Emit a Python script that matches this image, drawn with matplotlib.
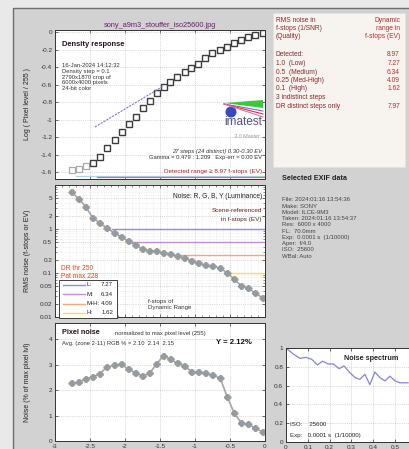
import numpy as np
import matplotlib.pyplot as plt
from matplotlib.patches import Rectangle, Ellipse, Polygon
from matplotlib.ticker import FixedLocator, MultipleLocator, NullFormatter, LogLocator

plt.rcParams['font.family'] = ['Liberation Sans', 'DejaVu Sans']
plt.rcParams['axes.unicode_minus'] = False

# step wedge zones: log10 exposure of each zone
log_exposure = [-2.76, -2.66, -2.56, -2.46, -2.36, -2.26, -2.15, -2.05, -1.95, -1.85,
                -1.75, -1.65, -1.55, -1.45, -1.35, -1.25, -1.15, -1.05, -0.95, -0.85,
                -0.75, -0.64, -0.54, -0.44, -0.34, -0.24, -0.14, -0.03]
density = [-1.58, -1.57, -1.53, -1.50, -1.43, -1.33, -1.23, -1.14, -1.05, -0.97,
           -0.87, -0.79, -0.70, -0.63, -0.57, -0.51, -0.46, -0.41, -0.37, -0.30,
           -0.24, -0.21, -0.17, -0.13, -0.09, -0.06, -0.03, -0.01]
n_indistinct = 3

# RMS noise in f-stops per zone
noise_fstops = [6.9, 4.8, 3.2, 1.78, 1.37, 1.05, 0.81, 0.66, 0.53, 0.43,
                0.35, 0.316, 0.316, 0.285, 0.27, 0.243, 0.22, 0.19, 0.17, 0.15,
                0.144, 0.13, 0.10, 0.073, 0.051, 0.046, 0.035, 0.027]

# pixel noise, % of max pixel level
pixel_noise = [2.27, 2.31, 2.43, 2.53, 2.63, 2.90, 2.98, 3.01, 2.82, 2.68,
               2.55, 2.65, 3.02, 3.35, 3.20, 3.05, 2.95, 2.72, 2.72, 2.65,
               2.59, 2.46, 1.74, 1.09, 0.72, 0.67, 0.50, 0.36]

gamma = 0.479
fit_x = [-2.43, -1.46]
fit_offset = 0.078

dr_names = ['L:', 'M:', 'M-H:', 'H:']
dr_values = [7.27, 6.34, 4.09, 1.62]
dr_thresholds = [1.0, 0.5, 0.25, 0.1]
dr_colors = ['#8c8ce8', '#c98ad8', '#f3a87a', '#e8e84c']
detected_dr = 8.97
distinct_dr = 7.97

spec_freq = [0.005, 0.034, 0.064, 0.092, 0.118, 0.144, 0.168, 0.194, 0.217, 0.244,
             0.266, 0.290, 0.317, 0.339, 0.362, 0.385, 0.408, 0.431, 0.454, 0.477,
             0.500, 0.523, 0.560]
spec_power = [0.99, 0.935, 0.89, 0.90, 0.88, 0.82, 0.86, 0.83, 0.83, 0.78,
              0.81, 0.745, 0.685, 0.667, 0.72, 0.61, 0.745, 0.685, 0.65, 0.70,
              0.65, 0.63, 0.63]

channel_colors = ['#d08a60', '#86b070', '#7086c0', '#a0a0a0']
channel_shift = [-0.008, -0.003, 0.003, 0.008]

W, H = 410, 449
fig = plt.figure(figsize=(W / 100, H / 100), dpi=100)
fig.patch.set_facecolor('#e9e9e9')
fig.add_artist(Rectangle((13 / W, -0.1), 1.1, 1.1 - 8 / H, transform=fig.transFigure,
                         fc='#d2d2d2', ec='#6e6e6e', lw=1, zorder=-10))


def box(x0, y0, x1, y1):
    return [x0 / W, 1 - y1 / H, (x1 - x0) / W, (y1 - y0) / H]


def ftext(x, y, s, **kw):
    kw.setdefault('fontsize', 4.6)
    kw.setdefault('va', 'center')
    fig.text(x / W, 1 - y / H, s, **kw)


def style(ax):
    ax.set_facecolor('white')
    ax.tick_params(which='both', direction='in', top=True, right=True, labelsize=4.6,
                   colors='#333333', pad=2)
    ax.tick_params(which='major', length=2.5, width=0.5)
    ax.tick_params(which='minor', length=1.3, width=0.4)
    for s in ax.spines.values():
        s.set_color('#333333')
        s.set_linewidth(0.7)
    ax.grid(True, which='major', color='#b8b8b8', ls=':', lw=0.5)


def channels(ax, yvals):
    # R, G, B and luminance drawn on top of each other
    for c, dx in zip(channel_colors, channel_shift):
        ax.plot(np.array(log_exposure) + dx, yvals, '-D', color=c, ms=3.0, lw=0.6,
                mec=c, mfc=c, alpha=0.6)


# --- density response ---
ax1 = fig.add_axes(box(55, 30, 265, 179))
style(ax1)
ax1.set_xlim(-3, 0)
ax1.set_ylim(-1.68, 0.023)
ax1.set_xticks(np.arange(-3, 0.01, 0.5))
ax1.xaxis.set_major_formatter(NullFormatter())
dticks = [-1.6, -1.4, -1.2, -1, -0.8, -0.6, -0.4, -0.2, 0]
ax1.set_yticks(dticks)
ax1.set_yticklabels(['%g' % v for v in dticks])
ax1.set_title('sony_a9m3_stouffer_iso25600.jpg', fontsize=5.3, color='#6a1f6a', pad=2.5)
ax1.set_ylabel('Log ( Pixel level / 255 )', fontsize=5, color='#222222')
ax1.yaxis.set_label_coords(-24 / 210, 0.5)

ax1.plot(log_exposure[:n_indistinct], density[:n_indistinct], 's', ms=4.2, mfc='white',
         mec='#aaaaaa', mew=0.9, ls='none')
ax1.plot(log_exposure[n_indistinct:], density[n_indistinct:], 's', ms=4.2, mfc='white',
         mec='#3c3c3c', mew=1.0, ls='none')
fx = np.array(fit_x)
ax1.plot(fx, gamma * fx + fit_offset, color='#7a7ad8', lw=0.8, ls=(0, (2, 1)))
ln10 = np.log2(10)
ax1.plot([-detected_dr / ln10, 0], [-1.645, -1.645], color='#a8d4f0', lw=0.9)
ax1.plot([-distinct_dr / ln10, 0], [-1.655, -1.655], color='#d87070', lw=0.9)

ftext(62, 44, 'Density response', fontsize=5.4, fontweight='bold', color='#221122')
ftext(62, 77, '16-Jan-2024 14:12:32\nDensity step = 0.1\n2790x1870 crop of\n6000x4000 pixels\n24-bit color',
      fontsize=4.2, color='#333333', linespacing=1.15)
ftext(262, 151, '27 steps (24 distinct) 0.30-0.30 EV', fontsize=4.2, ha='right', color='#333333',
      style='italic')
ftext(262, 158, 'Gamma = 0.479 : 1.209   Exp-err = 0.00 EV', fontsize=4.2, ha='right', color='#333333')
ftext(262, 171, 'Detected range \u2265 8.97 f-stops (EV)', fontsize=4.6, ha='right', color='#a02828',
      bbox=dict(fc='white', ec='none', pad=0.3))

# imatest logo
fig.add_artist(Polygon([(224 / W, 1 - 103 / H), (263 / W, 1 - 100 / H), (263 / W, 1 - 108 / H)],
                       transform=fig.transFigure, fc='#3cc83c', ec='none'))
for yy, c in [(111, '#7070d0'), (114, '#e03030'), (117, '#e070b0')]:
    fig.add_artist(plt.Line2D([224 / W, 263 / W], [1 - 104 / H, 1 - yy / H], transform=fig.transFigure,
                              color=c, lw=0.8))
fig.add_artist(Ellipse((231 / W, 1 - 112 / H), 11 / W, 11 / H, transform=fig.transFigure,
                       fc='#3848c0', ec='none'))
ftext(262, 122, 'imatest', fontsize=8.5, ha='right', color='#55557a')
ftext(260, 136, '3.0 Master', fontsize=4, ha='right', color='#999999', style='italic')

# --- noise in f-stops ---
ax2 = fig.add_axes(box(55, 185, 265, 317))
style(ax2)
ax2.set_xlim(-3, 0)
ax2.set_yscale('log')
ax2.set_ylim(0.01, 10)
ax2.set_xticks(np.arange(-3, 0.01, 0.5))
ax2.xaxis.set_minor_locator(MultipleLocator(0.1))
ax2.xaxis.set_major_formatter(NullFormatter())
yt = [0.01, 0.02, 0.05, 0.1, 0.2, 0.5, 1, 2, 5]
ax2.yaxis.set_major_locator(FixedLocator(yt))
ax2.set_yticklabels(['%g' % v for v in yt])
ax2.yaxis.set_minor_locator(LogLocator(subs=np.arange(2, 10)))
ax2.yaxis.set_minor_formatter(NullFormatter())
ax2.grid(True, which='minor', color='#dddddd', ls=':', lw=0.4)
ax2.set_ylabel('RMS noise (f-stops or EV)', fontsize=5, color='#222222')
ax2.yaxis.set_label_coords(-24 / 210, 0.5)

for thr, dr, c in zip(dr_thresholds, dr_values, dr_colors):
    ax2.plot([-dr / ln10, 0], [thr, thr], color=c, lw=1.0)
channels(ax2, noise_fstops)

ftext(262, 197, 'Noise: R, G, B, Y (Luminance)', fontsize=4.8, ha='right', color='#222222')
ftext(262, 210, 'Scene-referenced', fontsize=4.6, ha='right', color='#5a2020')
ftext(262, 219, 'in f-stops (EV)', fontsize=4.6, ha='right', color='#5a2020')
ftext(61, 268, 'DR thr 250', fontsize=4.8, color='#e04a2a')
ftext(61, 277, 'Pat max 228', fontsize=4.8, color='#e04a2a')
ftext(148, 301, 'f-stops of', fontsize=4.4, color='#333333')
ftext(148, 308, 'Dynamic Range', fontsize=4.4, color='#333333')

# legend box
fig.add_artist(Rectangle((59 / W, 1 - 318 / H), 58 / W, 38 / H, transform=fig.transFigure,
                         fc='white', ec='#222222', lw=0.6))
for i, (nm, dr, c) in enumerate(zip(dr_names, dr_values, dr_colors)):
    yy = 285 + 9.3 * i
    fig.add_artist(plt.Line2D([63 / W, 85 / W], [1 - yy / H, 1 - yy / H], transform=fig.transFigure,
                              color=c, lw=1.0))
    ftext(87, yy, nm, fontsize=4.4, color='#222222')
    ftext(113, yy, '%.2f' % dr, fontsize=4.4, ha='right', color='#222222')

# --- pixel noise ---
ax3 = fig.add_axes(box(55, 323, 265, 441))
style(ax3)
ax3.set_xlim(-3, 0)
ax3.set_ylim(0, 4.63)
ax3.set_xticks(np.arange(-3, 0.01, 0.5))
ax3.set_xticklabels(['%g' % v for v in np.arange(-3, 0.01, 0.5)])
ax3.set_yticks([0, 1, 2, 3, 4])
ax3.set_ylabel('Noise (% of max pixel lvl)', fontsize=5, color='#222222')
ax3.yaxis.set_label_coords(-24 / 210, 0.5)
channels(ax3, pixel_noise)
ftext(62, 333, 'Pixel noise', fontsize=5.2, fontweight='bold', color='#221122')
ftext(115, 333, 'normalized to max pixel level (255)', fontsize=4.2, color='#333333')
ftext(62, 344, 'Avg. (zone 2-11) RGB % = 2.10  2.14  2.15', fontsize=4.2, color='#333333')
ftext(252, 343, 'Y = 2.12%', fontsize=5.6, ha='right', fontweight='bold', color='#111111')

# --- info box ---
fig.add_artist(Rectangle((273 / W, 1 - 167 / H), 132 / W, 154 / H, transform=fig.transFigure,
                         fc='#f7f3ef', ec='#e4e0dc', lw=0.6))
red = '#8a2a2a'
ftext(276, 28, 'RMS noise in\nf-stops (1/SNR)\n(Quality)', fontsize=4.8, color=red, linespacing=1.2)
ftext(400, 28, 'Dynamic\nrange in\nf-stops (EV)', fontsize=4.8, color='#b03030', ha='right',
      linespacing=1.2, multialignment='right')
rows = ['Detected:', '1.0  (Low)', '0.5  (Medium)', '0.25 (Med-High)', '0.1  (High)',
        '3 indistinct steps', 'DR distinct steps only']
vals = ['%.2f' % detected_dr] + ['%.2f' % v for v in dr_values] + ['', '%.2f' % distinct_dr]
for i, (r, v) in enumerate(zip(rows, vals)):
    yy = 55 + 8.5 * i
    ftext(276, yy, r, fontsize=4.8, color=red)
    ftext(400, yy, v, fontsize=4.8, color='#b03030', ha='right')

# --- EXIF ---
ftext(282, 178, 'Selected EXIF data', fontsize=5.2, fontweight='bold', color='#222222')
exif = ['File: 2024:01:16 13:54:36', 'Make: SONY', 'Model: ILCE-9M3', 'Taken: 2024:01:16 13:54:37',
        'Res:  6000 x 4000', 'FL:  70.0mm', 'Exp:  0.0001 s  (1/10000)', 'Aper:  f/4.0',
        'ISO:  25600', 'WBal: Auto']
ftext(282, 228, '\n'.join(exif), fontsize=4.3, color='#444444', linespacing=1.32)

# --- noise spectrum ---
ax4 = fig.add_axes(box(286, 348, 415, 442))
style(ax4)
ax4.set_xlim(0, 0.592)
ax4.set_ylim(0, 1)
ax4.set_xticks([0, 0.1, 0.2, 0.3, 0.4, 0.5])
ax4.set_xticklabels(['0', '0.1', '0.2', '0.3', '0.4', '0.5'])
ax4.set_yticks([0, 0.2, 0.4, 0.6, 0.8, 1])
ax4.set_yticklabels(['0', '0.2', '0.4', '0.6', '0.8', '1'])
ax4.plot(spec_freq, spec_power, color='#8484d4', lw=0.9)
ftext(398, 358, 'Noise spectrum', fontsize=5.2, ha='right', fontweight='bold', color='#222222')
ftext(290, 425, 'ISO:    25600', fontsize=4.4, color='#222222')
ftext(290, 435, 'Exp:   0.0001 s  (1/10000)', fontsize=4.4, color='#222222')

fig.savefig('out.png', dpi=100, facecolor=fig.get_facecolor())
